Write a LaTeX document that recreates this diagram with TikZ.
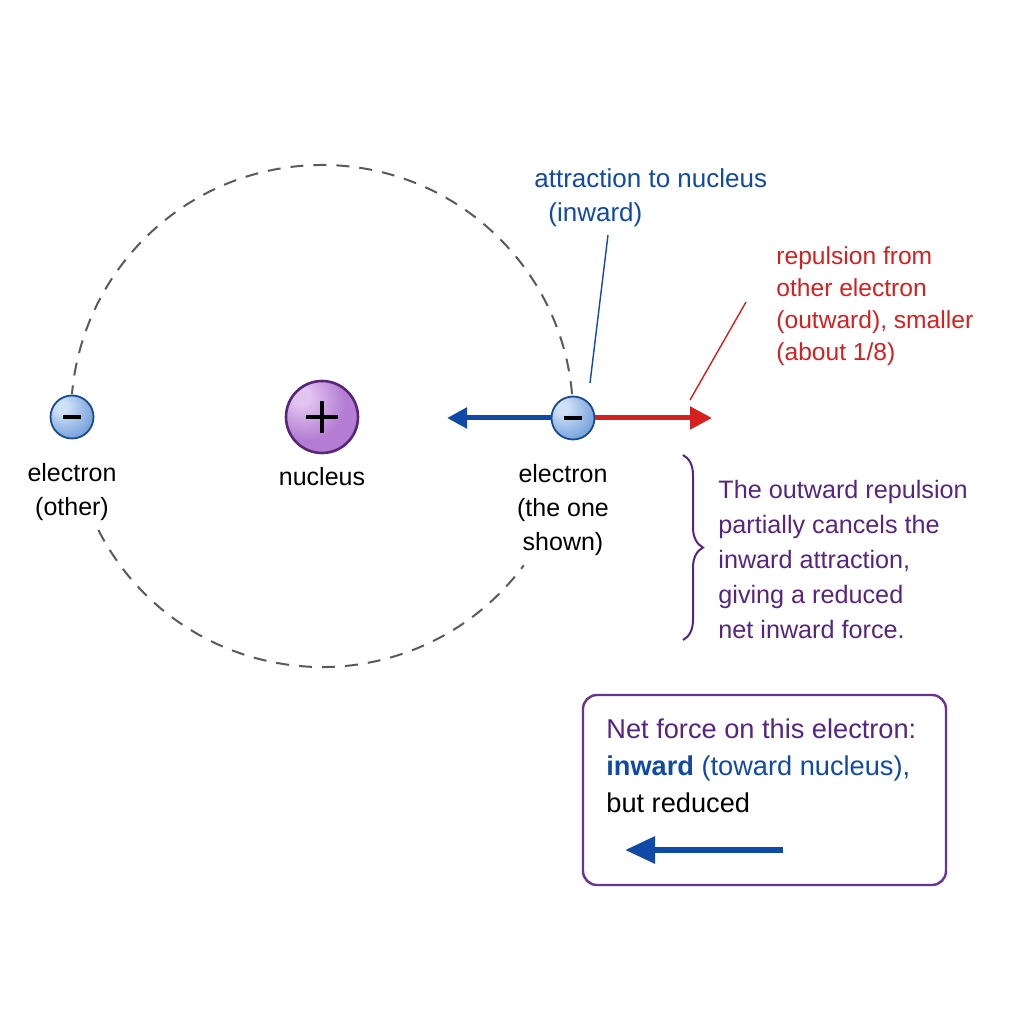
\documentclass[tikz,border=0pt]{standalone}
\usepackage{fontspec}
\setmainfont{Liberation Sans}
\usetikzlibrary{positioning}
\usetikzlibrary{arrows.meta}
\usetikzlibrary{decorations.pathreplacing}

\definecolor{atomblue}{RGB}{16,74,166}
\definecolor{atomred}{RGB}{214,32,32}
\definecolor{notepurple}{RGB}{88,36,128}
\definecolor{boxpurple}{RGB}{104,52,144}
\definecolor{orbitgray}{RGB}{90,90,90}
\definecolor{eHi}{RGB}{206,224,246}
\definecolor{eMid}{RGB}{128,168,224}
\definecolor{eLo}{RGB}{74,122,194}
\definecolor{eRim}{RGB}{26,74,146}
\definecolor{nHi}{RGB}{226,196,240}
\definecolor{nMid}{RGB}{180,124,212}
\definecolor{nLo}{RGB}{136,78,176}
\definecolor{nRim}{RGB}{86,38,120}

\pgfdeclareradialshading{electronball}{\pgfpoint{-14bp}{14bp}}{color(0bp)=(eHi); color(7bp)=(eHi); color(30bp)=(eMid); color(62bp)=(eLo)}
\pgfdeclareradialshading{nucleusball}{\pgfpoint{-16bp}{16bp}}{color(0bp)=(nHi); color(6bp)=(nHi); color(26bp)=(nMid); color(56bp)=(nMid); color(68bp)=(nLo)}

\begin{document}
\begin{tikzpicture}[x=0.5pt,y=0.5pt,
  electron/.style={circle,draw=eRim,line width=0.9pt,shading=electronball,minimum size=21.5pt,inner sep=0pt},
  nucleus/.style={circle,draw=nRim,line width=1.3pt,shading=nucleusball,minimum size=36pt,inner sep=0pt},
  sign/.style={line width=2pt,black},
  orbit/.style={orbitgray,line width=1pt,dash pattern=on 6.5pt off 5pt},
  lbl/.style={align=center,inner sep=0pt,font=\fontsize{12.5pt}{17pt}\selectfont},
  force/.style={line width=2.5pt},
  leader/.style={line width=0.7pt},
  netbox/.style={draw=boxpurple,line width=1.2pt,rounded corners=7pt,minimum width=181.5pt,minimum height=95pt,inner sep=0pt}]
 \useasboundingbox (0,0) rectangle (1024,1024);
 % orbit
 \coordinate (orbitCtr) at (322,608);
 \draw[orbit] (orbitCtr) ++(5:251) arc[start angle=5,end angle=175,radius=251];
 \draw[orbit] (orbitCtr) ++(207:251) arc[start angle=207,end angle=323.5,radius=251];
 % particles
 \node[electron] (eOther) at (72,607) {};
 \node[nucleus] (nuc) at (322,607) {};
 \node[electron] (eShown) at (573,606) {};
 \draw[sign] ([xshift=-4.5pt]eOther.center) -- ([xshift=4.5pt]eOther.center);
 \draw[sign] ([xshift=-4.5pt]eShown.center) -- ([xshift=4.5pt]eShown.center);
 \draw[sign] ([xshift=-8pt]nuc.center) -- ([xshift=8pt]nuc.center);
 \draw[sign] ([yshift=-8pt]nuc.center) -- ([yshift=8pt]nuc.center);
 \node[lbl,below=12pt of eOther] (otherLbl) {electron\\(other)};
 \node[lbl,below=6.5pt of nuc] (nucLbl) {nucleus};
 \node[lbl,below=12pt of eShown,xshift=-5pt] (shownLbl) {electron\\(the one\\shown)};
 % forces on the shown electron
 \coordinate (inTip) at (447,606);
 \coordinate (outTip) at (712,606);
 \draw[force,atomblue,-{Triangle[length=10pt,width=10pt]}] (eShown.west) -- (inTip);
 \draw[force,atomred,-{Triangle[length=11pt,width=11pt]}] (eShown.east) -- (outTip);
 \node[lbl,align=left,anchor=west,text=atomblue,font=\fontsize{13pt}{17pt}\selectfont] (attrLbl) at (534,826) {attraction to nucleus\\\hspace{7pt}(inward)};
 \coordinate (attrHead) at (608,789);
 \coordinate (attrFoot) at (590,641);
 \draw[leader,atomblue] (attrHead) -- (attrFoot);
 \node[lbl,align=left,anchor=west,text=atomred,font=\fontsize{12.3pt}{16pt}\selectfont] (repLbl) at (776,718) {repulsion from\\other electron\\(outward), smaller\\(about 1/8)};
 \coordinate (repHead) at (746,722);
 \coordinate (repFoot) at (690,624);
 \draw[leader,atomred] (repHead) -- (repFoot);
 % note with brace
 \coordinate (braceTop) at (683,569);
 \coordinate (braceBot) at (683,384);
 \draw[notepurple,line width=1pt,decorate,decoration={brace,amplitude=10pt}] (braceTop) -- (braceBot);
 \node[lbl,align=left,anchor=west,text=notepurple,font=\fontsize{12.6pt}{17.5pt}\selectfont] (noteLbl) at (718,465) {The outward repulsion\\partially cancels the\\inward attraction,\\giving a reduced\\net inward force.};
 % net force box
 \node[netbox] (netBox) at (764.5,234) {};
 \node[lbl,align=left,anchor=west,font=\fontsize{13.6pt}{18.5pt}\selectfont] (netTxt) at (606,258) {\textcolor{notepurple}{Net force on this electron:}\\\textcolor{atomblue}{\textbf{inward} (toward nucleus),}\\but reduced};
 \coordinate (netTail) at (783,174);
 \coordinate (netTip) at (625,174);
 \draw[line width=3pt,atomblue,-{Triangle[length=15pt,width=13pt]}] (netTail) -- (netTip);
\end{tikzpicture}
\end{document}
